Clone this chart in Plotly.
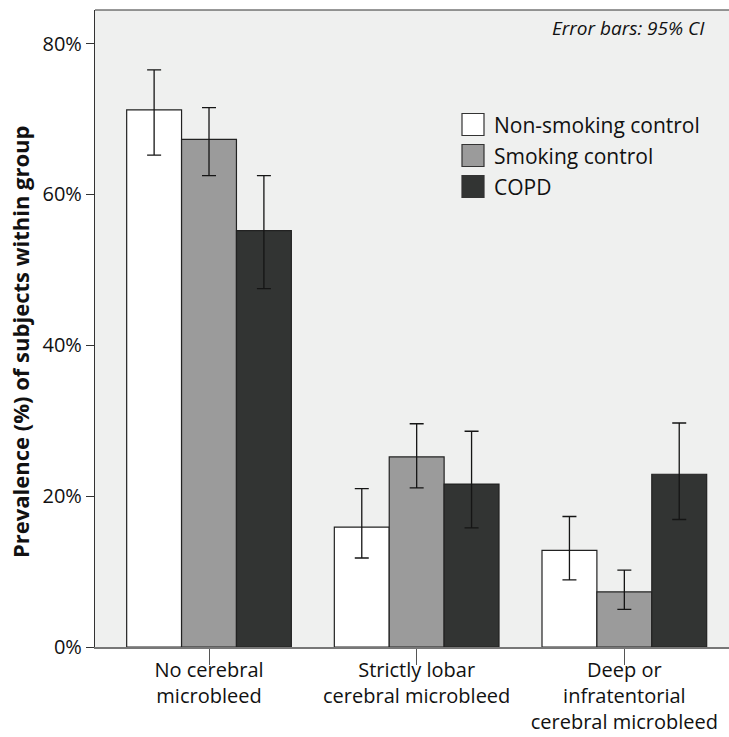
import plotly.graph_objects as go

# Prevalence of cerebral microbleed types by group (%), with 95% CI bounds
categories = ["No cerebral<br>microbleed",
              "Strictly lobar<br>cerebral microbleed",
              "Deep or<br>infratentorial<br>cerebral microbleed"]
groups = ["Non-smoking control", "Smoking control", "COPD"]

prevalence = {
    "Non-smoking control": [71.2, 15.9, 12.8],
    "Smoking control":     [67.3, 25.2, 7.3],
    "COPD":                [55.2, 21.6, 22.9],
}
ci_upper = {
    "Non-smoking control": [76.5, 21.0, 17.3],
    "Smoking control":     [71.5, 29.6, 10.2],
    "COPD":                [62.5, 28.6, 29.7],
}
ci_lower = {
    "Non-smoking control": [65.2, 11.8, 8.9],
    "Smoking control":     [62.5, 21.1, 5.0],
    "COPD":                [47.5, 15.8, 16.9],
}
y_ticks = [0, 20, 40, 60, 80]
y_tick_labels = [f"{v}%" for v in y_ticks]

colors = {"Non-smoking control": "#ffffff",
          "Smoking control": "#9b9b9b",
          "COPD": "#323433"}

FONT = "Open Sans"
W, H = 729, 737
ML, MR, MT, MB = 95, 0, 10, 90
PW, PH = W - ML - MR, H - MT - MB


def px(x, y):
    """Convert page pixel position to paper coordinates."""
    return (x - ML) / PW, (H - MB - y) / PH


fig = go.Figure()
for g in groups:
    vals = prevalence[g]
    fig.add_trace(go.Bar(
        x=categories, y=vals, name=g,
        marker=dict(color=colors[g], line=dict(color="#222222", width=1.2)),
        error_y=dict(type="data", symmetric=False,
                     array=[u - v for u, v in zip(ci_upper[g], vals)],
                     arrayminus=[v - l for v, l in zip(vals, ci_lower[g])],
                     color="#151515", thickness=1.3, width=7),
        showlegend=False,
    ))

shapes = []
annotations = []

# Legend drawn as swatches with labels
for i, g in enumerate(groups):
    top = 113.5 + 31 * i
    x0, y0 = px(462, top)
    x1, y1 = px(484, top + 22)
    shapes.append(dict(type="rect", xref="paper", yref="paper",
                       x0=x0, x1=x1, y0=y1, y1=y0,
                       fillcolor=colors[g], line=dict(color="#333333", width=1.2)))
    tx, ty = px(492, top + 11)
    annotations.append(dict(text=g, xref="paper", yref="paper", x=tx, y=ty,
                            xanchor="left", yanchor="middle", showarrow=False,
                            font=dict(family=FONT, size=21, color="#111111")))

# Top frame line
shapes.append(dict(type="line", xref="paper", yref="paper", x0=0, x1=1, y0=1, y1=1,
                   line=dict(color="#333333", width=1.2)))

ex, ey = px(707, 28)
annotations.append(dict(text="<i>Error bars: 95% CI</i>", xref="paper", yref="paper",
                        x=ex, y=ey, xanchor="right", yanchor="middle", showarrow=False,
                        font=dict(family=FONT, size=19, color="#111111")))

tx, ty = px(20, 342)
annotations.append(dict(text="<b>Prevalence (%) of subjects within group</b>",
                        xref="paper", yref="paper", x=tx, y=ty, textangle=-90,
                        xanchor="center", yanchor="middle", showarrow=False,
                        font=dict(family=FONT, size=22, color="#111111")))

fig.update_layout(
    width=W, height=H,
    margin=dict(l=ML, r=MR, t=MT, b=MB),
    paper_bgcolor="#ffffff",
    plot_bgcolor="#eff0ef",
    barmode="group", bargap=0.207, bargroupgap=0,
    font=dict(family=FONT, size=20, color="#111111"),
    shapes=shapes, annotations=annotations,
    xaxis=dict(range=[-0.549, 2.504], showgrid=False, zeroline=False,
               automargin=False, tickangle=0, ticklabelstandoff=-12,
               showline=True, linecolor="#777777", linewidth=1.6,
               ticks="outside", ticklen=16, tickcolor="#555555", tickwidth=1.2,
               tickfont=dict(family=FONT, size=20, color="#111111")),
    yaxis=dict(range=[0, 84.45], tickvals=y_ticks, ticktext=y_tick_labels,
               showgrid=False, zeroline=False, automargin=False,
               showline=True, linecolor="#333333", linewidth=1.2,
               ticks="outside", ticklen=8, tickcolor="#333333", tickwidth=1.2,
               tickfont=dict(family=FONT, size=20, color="#111111")),
)

fig.write_html("out.html")
